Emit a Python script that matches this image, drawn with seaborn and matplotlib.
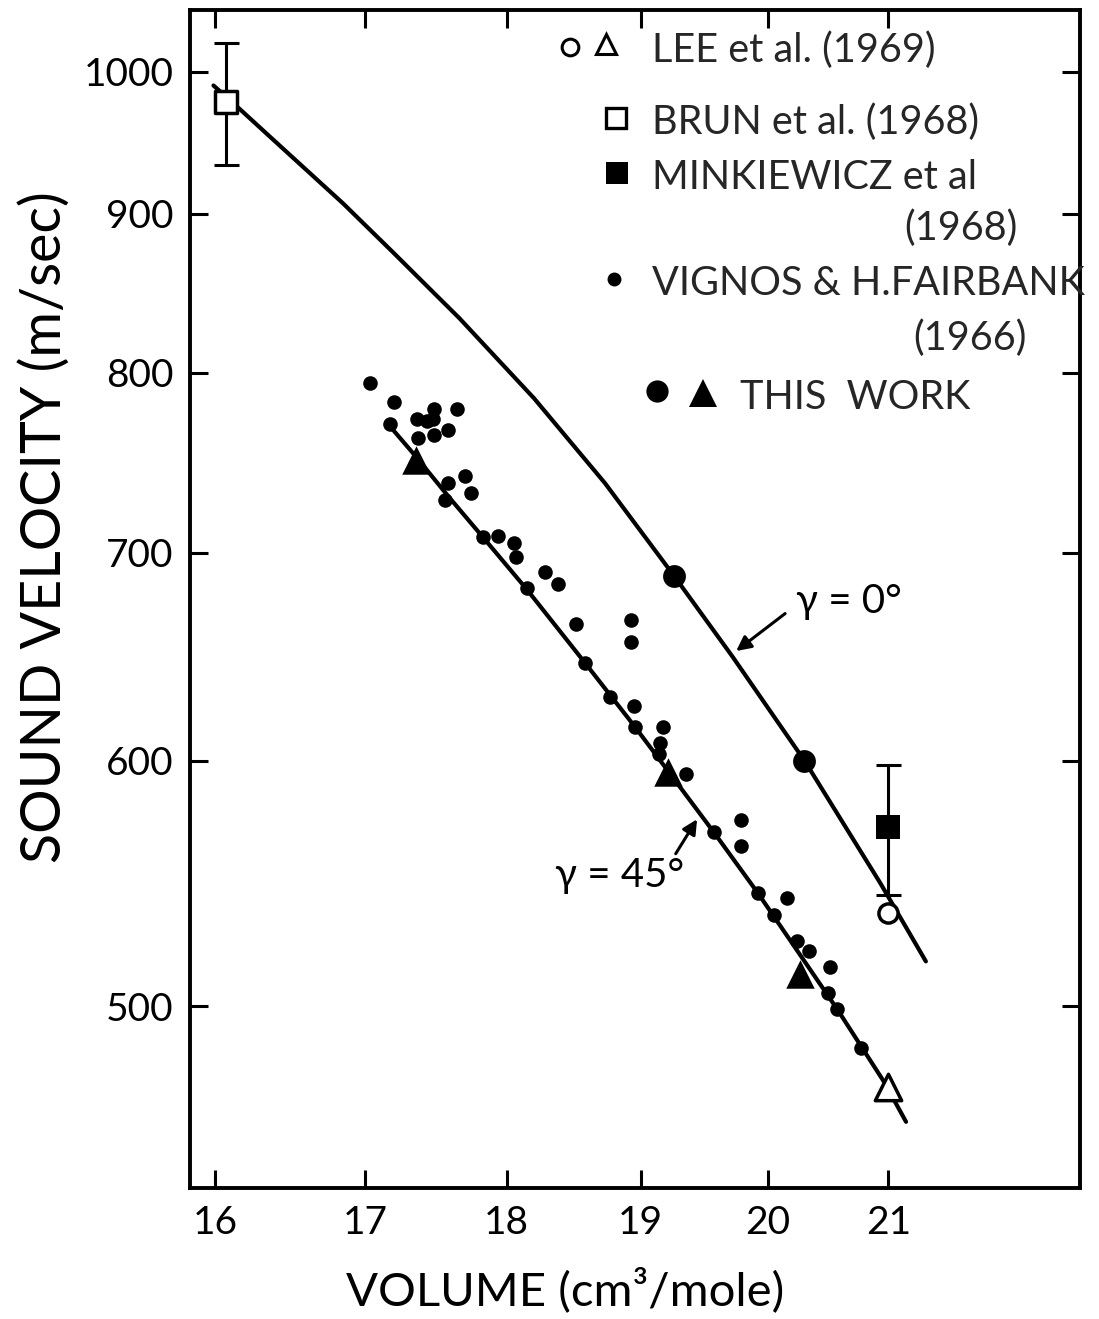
import numpy as np
import pandas as pd
import matplotlib
matplotlib.use("Agg")
import matplotlib.pyplot as plt
import seaborn as sns
from matplotlib.ticker import FixedLocator, NullLocator, FixedFormatter

sns.set_style("ticks")
plt.rcParams['font.family'] = ['Lato', 'DejaVu Sans']

# ---------------- data ----------------
# gamma = 0 deg curve
curve0_volume = [15.99, 16.10, 16.36, 16.85, 17.19, 17.66, 18.20, 18.73, 19.26, 19.72, 20.30, 20.93, 21.32]
curve0_velocity = [990, 979, 953, 907, 875, 833, 785, 737, 688, 648, 600, 548, 517]
# gamma = 45 deg curve
curve45_volume = [17.17, 17.35, 17.58, 17.83, 18.15, 18.58, 18.96, 19.57, 19.92, 20.57, 20.96, 21.15]
curve45_velocity = [769, 752, 730, 708, 681, 645, 615, 569, 544, 499, 473, 459]

# Vignos & H. Fairbank (1966)
vignos_volume = [17.03, 17.20, 17.17, 17.36, 17.43, 17.48, 17.47, 17.64, 17.58, 17.37, 17.48,
                 17.58, 17.70, 17.74, 17.56, 17.83, 17.94, 18.05, 18.07, 18.15, 18.28, 18.38,
                 18.51, 18.93, 18.93, 18.58, 18.77, 18.95, 18.96, 19.17, 19.15, 19.14, 19.35,
                 19.79, 19.79, 19.57, 19.92, 20.16, 20.05, 20.24, 20.34, 20.51, 20.49, 20.57, 20.77]
vignos_velocity = [794, 783, 770, 773, 772, 779, 773, 779, 767, 762, 764,
                   737, 741, 732, 728, 708, 709, 705, 698, 682, 690, 684,
                   664, 666, 655, 645, 629, 625, 615, 615, 608, 603, 594,
                   574, 563, 569, 544, 542, 535, 525, 521, 515, 505, 499, 485]

# This work
this_circle_volume = [19.26, 20.30]
this_circle_velocity = [688, 600]
this_triangle_volume = [17.35, 19.21, 20.26]
this_triangle_velocity = [750, 595, 512]

# Lee et al. (1969)
lee_circle_volume = [21.0]
lee_circle_velocity = [536]
lee_triangle_volume = [21.0]
lee_triangle_velocity = [471]

# Brun et al. (1968)
brun_volume = [16.07]
brun_velocity = [978]
brun_err_low = [45]
brun_err_high = [44]

# Minkiewicz et al. (1968)
mink_volume = [21.0]
mink_velocity = [571]
mink_err_low = [28]
mink_err_high = [27]

x_ticks = [16, 17, 18, 19, 20, 21]
y_ticks = [500, 600, 700, 800, 900, 1000]

legend_labels = ["LEE et al. (1969)", "BRUN et al. (1968)", "MINKIEWICZ et al",
                 "(1968)", "VIGNOS & H.FAIRBANK", "(1966)", "THIS  WORK"]

# ---------------- figure ----------------
fig = plt.figure(figsize=(10.99, 13.19), dpi=100)
ax = fig.add_axes([0.173, 0.0993, 0.8098, 0.8931])

lw_curve = 3.0
sns.lineplot(x=curve0_volume, y=curve0_velocity, ax=ax, color='black', lw=lw_curve,
             estimator=None, sort=False, solid_joinstyle='round')
sns.lineplot(x=curve45_volume, y=curve45_velocity, ax=ax, color='black', lw=lw_curve,
             estimator=None, sort=False, solid_joinstyle='round')

# error bars
ax.errorbar(brun_volume, brun_velocity, yerr=[brun_err_low, brun_err_high], fmt='none',
            ecolor='black', elinewidth=2.2, capsize=9, capthick=2.2, zorder=3)
ax.errorbar(mink_volume, mink_velocity, yerr=[mink_err_low, mink_err_high], fmt='none',
            ecolor='black', elinewidth=2.2, capsize=9, capthick=2.2, zorder=3)

sns.scatterplot(x=vignos_volume, y=vignos_velocity, ax=ax, s=110, color='black',
                edgecolor='black', linewidth=0, zorder=4)
sns.scatterplot(x=this_circle_volume, y=this_circle_velocity, ax=ax, s=270, color='black',
                edgecolor='black', linewidth=0, zorder=4)
sns.scatterplot(x=this_triangle_volume, y=this_triangle_velocity, ax=ax, s=420, marker='^',
                color='black', edgecolor='black', linewidth=0, zorder=4)
sns.scatterplot(x=lee_circle_volume, y=lee_circle_velocity, ax=ax, s=190, marker='o',
                facecolor='white', edgecolor='black', linewidth=2.5, zorder=5)
sns.scatterplot(x=lee_triangle_volume, y=lee_triangle_velocity, ax=ax, s=360, marker='^',
                facecolor='white', edgecolor='black', linewidth=2.5, zorder=5)
sns.scatterplot(x=brun_volume, y=brun_velocity, ax=ax, s=270, marker='s',
                facecolor='white', edgecolor='black', linewidth=2.5, zorder=5)
sns.scatterplot(x=mink_volume, y=mink_velocity, ax=ax, s=300, marker='s',
                color='black', edgecolor='black', linewidth=0, zorder=5)

# axes scales
ax.set_xscale('log')
ax.set_yscale('log')
ax.set_xlim(15.84, 22.69)
ax.set_ylim(437, 1047)
ax.xaxis.set_major_locator(FixedLocator(x_ticks))
ax.xaxis.set_major_formatter(FixedFormatter([str(t) for t in x_ticks]))
ax.xaxis.set_minor_locator(NullLocator())
ax.yaxis.set_major_locator(FixedLocator(y_ticks))
ax.yaxis.set_major_formatter(FixedFormatter([str(t) for t in y_ticks]))
ax.yaxis.set_minor_locator(NullLocator())

ax.tick_params(axis='both', which='major', direction='in', length=13, width=2.2,
               top=True, right=True, labelsize=28, pad=12, colors='black')
for sp in ax.spines.values():
    sp.set_linewidth(2.8)
    sp.set_color('black')

ax.set_xlabel("")
ax.set_ylabel("")
fig.text(0.041, 0.60, "SOUND VELOCITY (m/sec)", rotation=90, ha='center', va='center',
         fontsize=40, color='black')
fig.text(0.514, 0.022, "VOLUME (cm³/mole)", ha='center', va='center', fontsize=34,
         color='black')

# annotations
ax.annotate("", xy=(19.73, 650), xytext=(20.16, 670),
            arrowprops=dict(arrowstyle='-|>', color='black', lw=2.2, mutation_scale=22))
ax.text(20.23, 675, "γ = 0°", ha='left', va='center', fontsize=29, color='black')
ax.annotate("", xy=(19.45, 575.5), xytext=(19.26, 559),
            arrowprops=dict(arrowstyle='-|>', color='black', lw=2.2, mutation_scale=22))
ax.text(19.34, 551, "γ = 45°", ha='right', va='center', fontsize=29, color='black')

# hand-made legend (axes fraction coordinates)
T = ax.transAxes
ax.plot([0.427], [0.9686], marker='o', ms=12, mfc='white', mec='black', mew=2.2, transform=T)
ax.plot([0.467], [0.971], marker='^', ms=15, mfc='white', mec='black', mew=2.2, transform=T)
ax.plot([0.479], [0.908], marker='s', ms=15, mfc='white', mec='black', mew=2.4, transform=T)
ax.plot([0.480], [0.862], marker='s', ms=16, mfc='black', mec='black', mew=0, transform=T)
ax.plot([0.476], [0.772], marker='o', ms=10, mfc='black', mec='black', mew=0, transform=T)
ax.plot([0.525], [0.677], marker='o', ms=16, mfc='black', mec='black', mew=0, transform=T)
ax.plot([0.576], [0.675], marker='^', ms=20, mfc='black', mec='black', mew=0, transform=T)

fs_leg = 28.5
ax.text(0.519, 0.966, legend_labels[0], transform=T, ha='left', va='center', fontsize=fs_leg)
ax.text(0.519, 0.905, legend_labels[1], transform=T, ha='left', va='center', fontsize=fs_leg)
ax.text(0.519, 0.858, legend_labels[2], transform=T, ha='left', va='center', fontsize=fs_leg)
ax.text(0.930, 0.815, legend_labels[3], transform=T, ha='right', va='center', fontsize=fs_leg)
ax.text(0.519, 0.768, legend_labels[4], transform=T, ha='left', va='center', fontsize=fs_leg)
ax.text(0.940, 0.7216, legend_labels[5], transform=T, ha='right', va='center', fontsize=fs_leg)
ax.text(0.618, 0.671, legend_labels[6], transform=T, ha='left', va='center', fontsize=fs_leg)

fig.savefig("out.png", dpi=100, facecolor='white')
